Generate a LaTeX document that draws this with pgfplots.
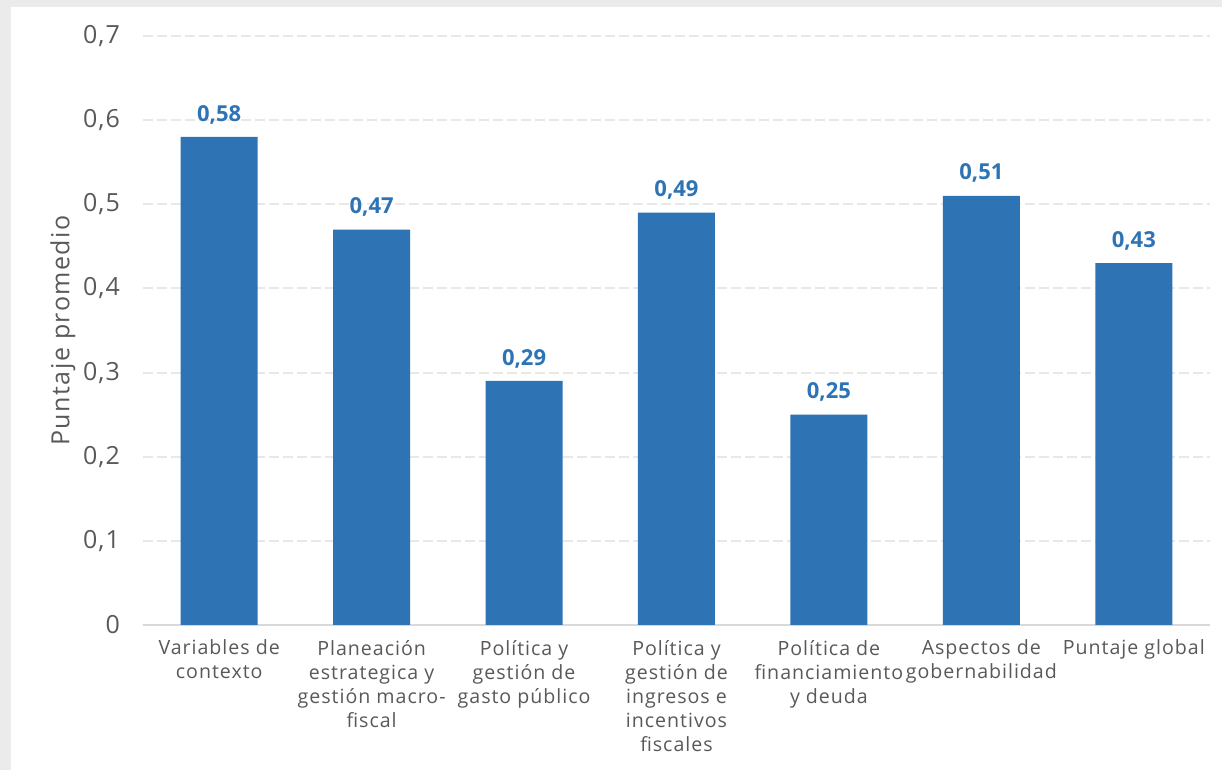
\documentclass[border=0pt]{standalone}
\usepackage{pgfplots}
\pgfplotsset{compat=1.18}
\usepackage{fontspec}
\setmainfont{Open Sans}
\newfontfamily\spaced[LetterSpace=5]{Open Sans}
\newfontfamily\ylsp[LetterSpace=6]{Open Sans}
\newfontfamily\ticksp[LetterSpace=4]{Open Sans}
\definecolor{barblue}{HTML}{2E74B5}
\definecolor{txtgray}{HTML}{595959}
\definecolor{gridgray}{HTML}{E8E8E8}
\definecolor{bandgray}{HTML}{EBEBEB}
\begin{document}
\begin{tikzpicture}
\fill[bandgray] (0,0) rectangle (611pt,385pt);
\fill[white] (5.5pt,0) rectangle (611pt,381.5pt);
\begin{axis}[
  at={(71.5pt,72.5pt)}, anchor=south west,
  scale only axis, width=533.5pt, height=294.5pt,
  ybar, bar width=38.5pt,
  xmin=-0.5, xmax=6.5, ymin=0, ymax=0.7,
  ytick={0,0.1,...,0.7},
  xtick=data,
  xticklabels={{Variables de\\contexto}, {Planeación\\estrategica y\\gestión macro-\\fiscal}, {Política y\\gestión de\\gasto público}, {Política y\\gestión de\\ingresos e\\incentivos\\fiscales}, {Política de\\financiamiento\\y deuda}, {Aspectos de\\gobernabilidad}, {Puntaje global}},
  x tick label style={font=\spaced\fontsize{9.8}{12}\selectfont, text=txtgray, align=center, yshift=-4pt},
  y tick label style={font=\ticksp\fontsize{12.5}{14}\selectfont, text=txtgray, xshift=-8pt},
  /pgf/number format/assume math mode=true,
  /pgf/number format/use comma,
  yticklabel={\pgfmathprintnumber[fixed, use comma]{\tick}},
  major tick length=0pt,
  axis x line*=bottom, axis y line*=left,
  y axis line style={draw=none},
  x axis line style={draw=gray!30, line width=1pt, -},
  ymajorgrids, grid style={draw=gridgray, line width=1pt, dash pattern=on 5pt off 2pt},
  ylabel={Puntaje promedio},
  ylabel style={font=\ylsp\fontsize{12.5}{14}\selectfont, text=txtgray, at={(axis description cs:-0.075,0.5)}, anchor=center},
  nodes near coords={\pgfmathprintnumber[fixed, fixed zerofill, precision=2, use comma]{\pgfplotspointmeta}},
  nodes near coords style={font=\bfseries\fontsize{11}{13}\selectfont, text=barblue, yshift=3pt},
  clip=false,
]
\addplot[fill=barblue, draw=none] coordinates {(0,0.58) (1,0.47) (2,0.29) (3,0.49) (4,0.25) (5,0.51) (6,0.43)};
\end{axis}
\pgfresetboundingbox
\useasboundingbox (0,0) rectangle (611pt,385pt);
\end{tikzpicture}
\end{document}
